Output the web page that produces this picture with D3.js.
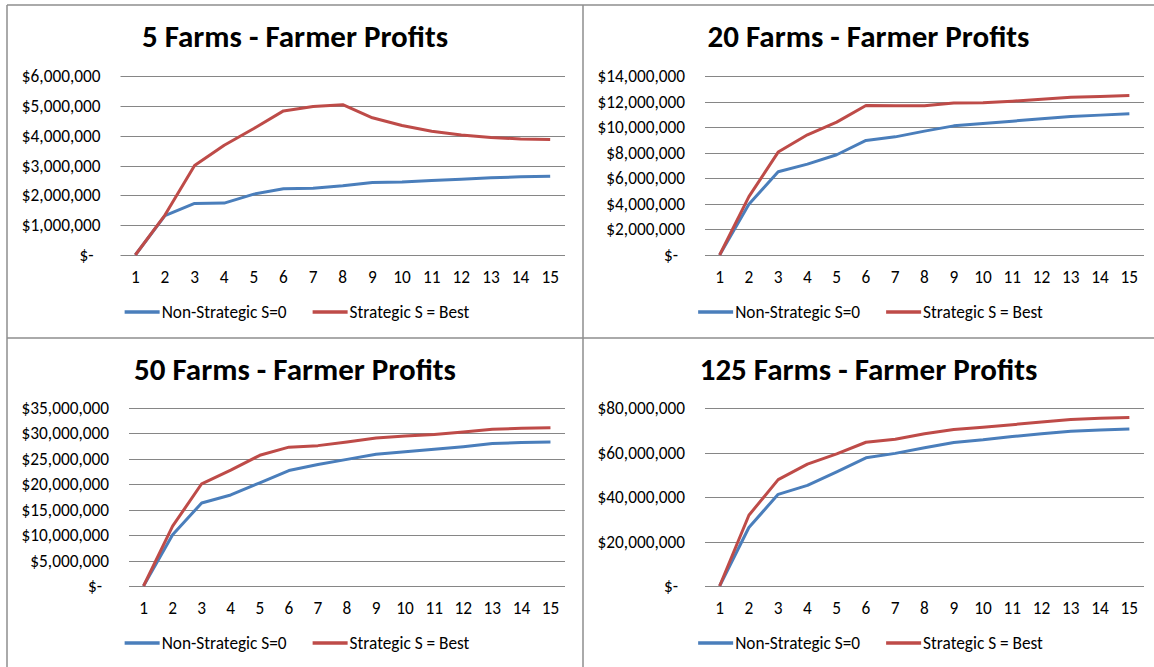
<!DOCTYPE html>
<html>
<head>
<meta charset="utf-8">
<script src="https://cdn.jsdelivr.net/npm/d3@7"></script>
<style>
  html, body { margin: 0; padding: 0; background: #fff; }
  svg { display: block; font-family: Carlito, Calibri, "Open Sans", sans-serif; }
  .title { font-weight: bold; font-size: 31px; fill: #000; }
  .tick-label { font-size: 17.3px; fill: #000; }
  .legend-label { font-size: 17.3px; fill: #000; }
</style>
</head>
<body>
<svg id="chart" width="1154" height="667"></svg>
<script>
// periods 1..15
const periods = d3.range(1, 16);
const seriesNames = ['Non-Strategic S=0', 'Strategic S = Best'];
const seriesColors = ['#4A7EBB', '#BE4B48'];

// profits, in dollars
const farms5NonStrategic = [0, 1320000, 1730000, 1740000, 2040000, 2220000, 2240000, 2320000, 2430000, 2450000, 2500000, 2540000, 2590000, 2620000, 2640000];
const farms5Strategic    = [0, 1340000, 3000000, 3680000, 4240000, 4830000, 4980000, 5040000, 4600000, 4340000, 4150000, 4020000, 3940000, 3890000, 3870000];

const farms20NonStrategic = [0, 3960000, 6510000, 7110000, 7840000, 8960000, 9240000, 9690000, 10100000, 10290000, 10470000, 10650000, 10830000, 10940000, 11040000];
const farms20Strategic    = [0, 4560000, 8050000, 9400000, 10390000, 11690000, 11670000, 11670000, 11880000, 11900000, 12030000, 12190000, 12340000, 12400000, 12470000];

const farms50NonStrategic = [0, 10060000, 16330000, 17900000, 20300000, 22700000, 23900000, 24900000, 25900000, 26400000, 26900000, 27400000, 28000000, 28200000, 28300000];
const farms50Strategic    = [0, 11760000, 20100000, 22800000, 25700000, 27300000, 27600000, 28300000, 29100000, 29500000, 29800000, 30300000, 30800000, 31000000, 31100000];

const farms125NonStrategic = [0, 26300000, 41200000, 45200000, 51300000, 57600000, 59600000, 62100000, 64500000, 65700000, 67200000, 68400000, 69600000, 70100000, 70600000];
const farms125Strategic    = [0, 31800000, 47800000, 54800000, 59400000, 64600000, 66000000, 68400000, 70300000, 71300000, 72500000, 73700000, 74800000, 75400000, 75700000];

const titles = ['5 Farms - Farmer Profits', '20 Farms - Farmer Profits', '50 Farms - Farmer Profits', '125 Farms - Farmer Profits'];
const yMaxes = [6000000, 14000000, 35000000, 80000000];
const ySteps = [1000000, 2000000, 5000000, 20000000];

const svg = d3.select('#chart');
const fmtMoney = d3.format('$,');

// panel layout: box = panel frame, plot = gridline area
const panels = [
  { box: { x0: 7,   x1: 583,  y0: 5,   y1: 338 }, plot: { x0: 120.5, x1: 565,  y0: 76,  y1: 255 }, series: [farms5NonStrategic, farms5Strategic] },
  { box: { x0: 583, x1: 1154, y0: 5,   y1: 338 }, plot: { x0: 705,   x1: 1144, y0: 76,  y1: 255 }, series: [farms20NonStrategic, farms20Strategic] },
  { box: { x0: 7,   x1: 583,  y0: 338, y1: 667 }, plot: { x0: 129,   x1: 565,  y0: 408, y1: 586 }, series: [farms50NonStrategic, farms50Strategic] },
  { box: { x0: 583, x1: 1154, y0: 338, y1: 667 }, plot: { x0: 705,   x1: 1144, y0: 408, y1: 586 }, series: [farms125NonStrategic, farms125Strategic] }
];

// frame lines
const frame = [[7, 5, 1154, 5], [7, 5, 7, 667], [583, 5, 583, 667], [7, 338, 1154, 338]];
svg.selectAll('line.frame')
  .data(frame)
  .join('line')
  .attr('class', 'frame')
  .attr('x1', d => d[0]).attr('y1', d => d[1])
  .attr('x2', d => d[2]).attr('y2', d => d[3])
  .attr('stroke', '#8e8e8e').attr('stroke-width', 1.5);

panels.forEach((p, i) => drawPanel(p, i));

function drawPanel(p, i){
  const g = svg.append('g');
  const cx = (p.box.x0 + p.box.x1) / 2;

  g.append('text')
    .attr('class', 'title')
    .attr('x', cx)
    .attr('y', p.box.y0 + 42)
    .attr('text-anchor', 'middle')
    .text(titles[i]);

  const x = d3.scaleBand().domain(periods).range([p.plot.x0, p.plot.x1]);
  const y = d3.scaleLinear().domain([0, yMaxes[i]]).range([p.plot.y1, p.plot.y0]);
  const yTicks = d3.range(0, yMaxes[i] + 1, ySteps[i]);

  // gridlines
  g.selectAll('line.grid')
    .data(yTicks)
    .join('line')
    .attr('class', 'grid')
    .attr('x1', p.plot.x0).attr('x2', p.plot.x1)
    .attr('y1', d => Math.round(y(d)) + 0.5).attr('y2', d => Math.round(y(d)) + 0.5)
    .attr('stroke', '#868686').attr('stroke-width', 1);

  // y labels
  g.selectAll('text.ylab')
    .data(yTicks)
    .join('text')
    .attr('class', 'tick-label ylab')
    .attr('x', d => d === 0 ? p.plot.x0 - 27 : p.plot.x0 - 20)
    .attr('y', d => y(d))
    .attr('dy', '0.35em')
    .attr('text-anchor', 'end')
    .text(d => d === 0 ? '$-' : fmtMoney(d));

  // x labels
  g.selectAll('text.xlab')
    .data(periods)
    .join('text')
    .attr('class', 'tick-label xlab')
    .attr('x', d => x(d) + x.bandwidth() / 2)
    .attr('y', p.plot.y1 + 22)
    .attr('dy', '0.35em')
    .attr('text-anchor', 'middle')
    .text(d => d);

  const line = d3.line()
    .x((d, k) => x(periods[k]) + x.bandwidth() / 2)
    .y(d => y(d));

  p.series.forEach((vals, s) => {
    g.append('path')
      .datum(vals)
      .attr('fill', 'none')
      .attr('stroke', seriesColors[s])
      .attr('stroke-width', 3)
      .attr('stroke-linejoin', 'round')
      .attr('d', line);
  });

  // legend, centred on the panel
  const lg = g.append('g');
  let lx = 0;
  seriesNames.forEach((name, s) => {
    lg.append('line')
      .attr('x1', lx).attr('x2', lx + 35)
      .attr('y1', 0).attr('y2', 0)
      .attr('stroke', seriesColors[s]).attr('stroke-width', 3.5);
    const t = lg.append('text')
      .attr('class', 'legend-label')
      .attr('x', lx + 37)
      .attr('y', 0)
      .attr('dy', '0.35em')
      .text(name);
    lx += 37 + t.node().getComputedTextLength() + 26;
  });
  const lw = lx - 26;
  const legendY = p.plot.y1 + 57;
  lg.attr('transform', `translate(${cx + 2 - lw / 2},${legendY})`);
}
</script>
</body>
</html>
